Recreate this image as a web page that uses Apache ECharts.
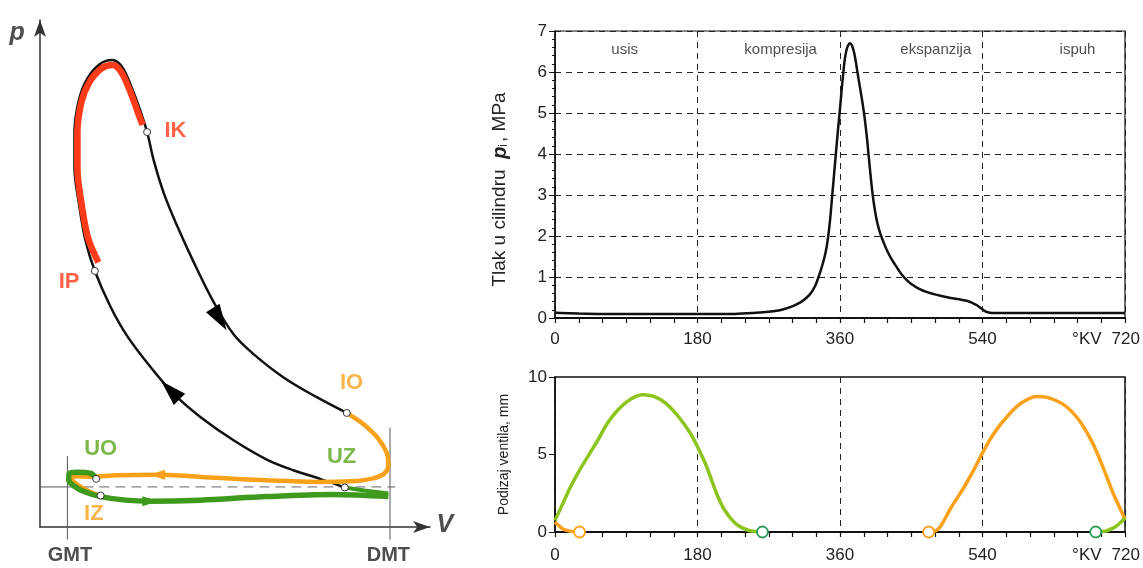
<!DOCTYPE html>
<html><head><meta charset="utf-8">
<script src="https://cdn.jsdelivr.net/npm/echarts@6/dist/echarts.min.js"></script>
<style>html,body{margin:0;padding:0;background:#fff}#c{width:1143px;height:568px}</style>
</head><body><div id="c"></div>
<script>
// ---------- Left: schematic p–V diagram (V: 0 = GMT, 100 = DMT; p in arbitrary units) ----------
const pvCycle = [[86.0,7.8],[78.3,9.5],[70.0,11.2],[61.8,13.3],[51.5,17.1],[41.2,21.7],[32.9,26.3],[25.7,31.6],[18.5,37.7],[13.4,43.4],[8.5,50.5],[5.6,56.5],[3.6,63.7],[2.2,70.8],[2.2,77.9],[3.6,84.3],[6.2,88.5],[10.3,91.4],[13.9,92.1],[17.0,90.7],[20.1,86.4],[22.6,82.1],[24.7,77.9],[26.8,72.2],[29.9,65.8],[34.0,59.4],[39.1,52.3],[45.3,44.4],[51.5,38.0],[57.7,34.1],[67.0,29.5],[77.3,25.6],[86.6,22.5]];
const pvCombustion = [[9.6,52.2],[6.4,57.0],[4.4,63.7],[3.1,70.8],[3.1,77.7],[4.3,83.7],[6.7,87.6],[10.5,90.4],[13.9,91.1],[16.6,89.8],[19.4,86.0],[21.7,82.0],[23.3,79.3]];
const pvExhaust = [[86.6,22.5],[91.7,20.3],[96.4,17.4],[99.0,14.6],[99.5,12.4],[98.5,10.7],[94.8,9.6],[87.6,9.0],[77.3,8.9],[61.8,9.2],[46.4,9.7],[27.8,10.3],[15.4,10.2],[7.2,9.9],[3.5,10.0],[1.2,9.8],[1.8,9.0],[4.2,7.9],[7.2,6.9],[10.3,6.2]];
const pvIntake = [[8.9,9.5],[7.2,10.6],[3.0,10.8],[0.6,10.6],[0.4,9.3],[2.0,8.1],[5.5,6.9],[10.3,6.0],[18.0,5.3],[25.7,5.1],[41.2,5.3],[61.8,6.0],[82.4,6.4],[99.5,6.0]];
const pvIntakeClosing = [[99.5,6.6],[92.0,7.2],[86.0,7.8]];
const pvPointNames = ['IK','IP','IO','UZ','UO','IZ'];
const pvPoints = [[24.7,77.9],[8.5,50.5],[86.6,22.5],[86.0,7.8],[8.9,9.5],[10.3,6.2]];
const pvLabelPos = [[33.5,78.2],[0.5,48.4],[88.1,28.4],[85.0,13.9],[10.3,15.3],[8.2,2.6]];
const pvArrowsBlack = [[47.2,41.0],[31.9,27.0]];
const pvArrowsBlackAngle = [-148,45];
const pvArrowOrange = [[27.8,10.3]];
const pvArrowGreen = [[25.7,5.1]];
const pvAtmLine = [[0,7.9],[100,7.9]];
const pvAtmStubs = [[[-9.8,7.9],[0,7.9]],[[100,7.9],[101.6,7.9]]];
const pvGmtLine = [[0,14.0],[0,-2.5]];
const pvDmtLine = [[100,19.6],[100,-2.5]];
const pvAxisText = [[-15.6,97.4,'p'],[117.0,0.3,'V'],[0.8,-5.6,'GMT'],[99.5,-5.6,'DMT']];

// ---------- Right: cylinder pressure and valve lift vs crank angle ----------
const crankTicks = [0,180,360,540,720];
const pressure = [[0,0.13],[30,0.11],[60,0.1],[120,0.1],[180,0.1],[227,0.1],[250,0.12],[270,0.155],[284,0.19],[298,0.27],[310,0.38],[318,0.5],[324,0.63],[329,0.8],[332,0.95],[336,1.18],[340,1.45],[343,1.72],[345.5,2.05],[348,2.5],[350,2.95],[352.5,3.5],[355,4.05],[357.5,4.6],[360,5.1],[362,5.55],[364,5.95],[366,6.3],[368,6.52],[370,6.64],[372.5,6.7],[375,6.65],[377.5,6.5],[380,6.25],[382,6.0],[385,5.65],[388,5.3],[391,4.9],[394,4.4],[396,4.0],[398.5,3.5],[401,3.05],[403.5,2.7],[406,2.42],[409,2.18],[412,2.0],[416,1.8],[420,1.62],[425,1.44],[430,1.29],[434,1.17],[438,1.06],[444,0.93],[450,0.83],[460,0.71],[470,0.63],[481,0.57],[497,0.5],[510,0.46],[520,0.42],[527,0.37],[533,0.31],[538,0.24],[543,0.17],[548,0.135],[555,0.12],[580,0.12],[720,0.12]];
const phaseNames = ['usis','kompresija','ekspanzija','ispuh'];
const phaseCenters = [88,285,481,660];
const phaseLabelLevel = 6.55;
const intakeLiftA = [[0,0.75],[10,1.85],[20,2.95],[30,3.9],[40,4.75],[55,6.0],[66,7.0],[80,7.9],[95,8.55],[111,8.86],[125,8.75],[140,8.3],[155,7.5],[170,6.45],[180,5.5],[190,4.4],[196,3.6],[204,2.5],[212,1.6],[220,1.0],[228,0.55],[236,0.28],[245,0.1],[255,0.02],[262,0]];
const intakeLiftB = [[683,0],[695,0.05],[705,0.25],[712,0.5],[720,0.9]];
const exhaustLiftA = [[0,0.65],[5,0.4],[10,0.2],[15,0.1],[20,0.04],[31,0]];
const exhaustLiftB = [[472,0],[480,0.06],[486,0.3],[492,0.8],[500,1.55],[510,2.35],[518,3.0],[530,4.1],[540,5.1],[555,6.4],[572,7.5],[590,8.35],[609,8.75],[620,8.7],[632,8.5],[643,8.2],[654,7.7],[665,7.0],[679,5.75],[692,4.2],[705,2.5],[713,1.6],[720,0.8]];
const intakeEvents = [[262,0],[683,0]];
const exhaustEvents = [[31,0],[472,0]];

const FONT = 'Liberation Sans, Arial, sans-serif';
const RED = '#ff3b1a', ORANGE = '#f9a11b', GREEN = '#3e9a1c', LGREEN = '#8cc41e', TEAL = '#2e9a5e';
const labelColor = {IK:RED, IP:RED, IO:ORANGE, IZ:ORANGE, UZ:'#5aa51e', UO:'#5aa51e'};

function crankX(grid, margin){
  return {
    gridIndex:grid, type:'value', min:0, max:720, interval:180,
    axisLine:{onZero:false, lineStyle:{color:'#111', width:2}},
    axisTick:{length:5, lineStyle:{color:'#111', width:1.2}},
    minorTick:{show:true, splitNumber:6, length:5, lineStyle:{color:'#111', width:1.2}},
    splitLine:{show:true, lineStyle:{color:'#222', width:1, type:[6,5]}},
    axisLabel:{color:'#222', fontSize:17, fontFamily:FONT, margin:margin,
      formatter: v => v === 720 ? '{k|°KV}{g| }{v|720}{p| }' : String(v),
      rich:{k:{fontSize:17, fontFamily:FONT, color:'#222'}, g:{width:10}, v:{fontSize:17, fontFamily:FONT, color:'#222'}, p:{width:38}}}
  };
}
function lineOpts(data, color, width, smooth){
  return {type:'line', data:data, symbol:'none', smooth:smooth, clip:false, lineStyle:{color:color, width:width}};
}

const pvLabelData = pvPointNames.map((n,i) => ({value:[pvLabelPos[i][0], pvLabelPos[i][1]], name:n, label:{color:labelColor[n]}}));
const pvAxisData = pvAxisText.map(t => ({value:[t[0], t[1]], name:t[2],
  label: (t[2]==='p'||t[2]==='V') ? {fontStyle:'italic', fontSize:25} : {fontSize:20}}));
const rot = (pts, angles) => pts.map((p,i) => ({value:p, symbolRotate: angles ? angles[i] : 0}));

const option = {
  animation:false,
  backgroundColor:'#fff',
  grid:[
    {left:40, top:20, width:390, height:507, containLabel:false, outerBoundsMode:'none'},
    {left:555, top:31, width:570, height:287, show:true, borderColor:'#111', borderWidth:1.2, containLabel:false, outerBoundsMode:'none'},
    {left:555, top:377, width:570, height:155, show:true, borderColor:'#111', borderWidth:1.5, containLabel:false, outerBoundsMode:'none'}
  ],
  xAxis:[
    {gridIndex:0, type:'value', min:-8.5, max:112.4,
     axisLine:{onZero:false, symbol:['none','arrow'], symbolSize:[9,17], lineStyle:{color:'#333', width:1.5}},
     axisTick:{show:false}, axisLabel:{show:false}, splitLine:{show:false}},
    crankX(1, 13), crankX(2, 15)
  ],
  yAxis:[
    {gridIndex:0, type:'value', min:0, max:100,
     axisLine:{onZero:false, symbol:['none','arrow'], symbolSize:[9,17], lineStyle:{color:'#333', width:1.5}},
     axisTick:{show:false}, axisLabel:{show:false}, splitLine:{show:false}},
    {gridIndex:1, type:'value', min:0, max:7, interval:1,
     axisLine:{show:true, onZero:false, lineStyle:{color:'#111', width:1.5}},
     axisTick:{show:true, length:6, lineStyle:{color:'#111'}},
     minorTick:{show:true, splitNumber:5, length:3, lineStyle:{color:'#111'}},
     splitLine:{show:true, lineStyle:{color:'#222', width:1, type:[6,5]}},
     axisLabel:{color:'#222', fontSize:17, fontFamily:FONT, margin:8},
     name:'Tlak u cilindru  {b|p}{s|i}, MPa', nameLocation:'middle', nameGap:45,
     nameTextStyle:{color:'#222', fontSize:19, fontFamily:FONT, padding:[0,30,0,0],
       rich:{b:{fontSize:20, fontWeight:'bold', fontStyle:'italic', fontFamily:FONT, color:'#222'},
             s:{fontSize:12, fontFamily:FONT, color:'#222', verticalAlign:'bottom', padding:[7,2,0,0]}}}},
    {gridIndex:2, type:'value', min:0, max:10, interval:5,
     axisLine:{show:true, onZero:false, lineStyle:{color:'#111', width:1.5}},
     axisTick:{show:true, length:6, lineStyle:{color:'#111'}},
     splitLine:{show:false},
     axisLabel:{color:'#222', fontSize:17, fontFamily:FONT, margin:8},
     name:'Podizaj ventila, mm', nameLocation:'middle', nameGap:44,
     nameTextStyle:{color:'#222', fontSize:14, fontFamily:FONT}}
  ],
  series:[
    // thin reference lines
    Object.assign(lineOpts(pvGmtLine,'#555',1,false),{xAxisIndex:0,yAxisIndex:0,silent:true}),
    Object.assign(lineOpts(pvDmtLine,'#555',1,false),{xAxisIndex:0,yAxisIndex:0,silent:true}),
    Object.assign(lineOpts(pvAtmLine,'#666',1,false),{xAxisIndex:0,yAxisIndex:0,silent:true,lineStyle:{color:'#666',width:1,type:[10,6]}}),
    Object.assign(lineOpts(pvAtmStubs[0],'#555',1,false),{xAxisIndex:0,yAxisIndex:0,silent:true}),
    Object.assign(lineOpts(pvAtmStubs[1],'#555',1,false),{xAxisIndex:0,yAxisIndex:0,silent:true}),
    // cycle
    Object.assign(lineOpts(pvCycle,'#111',2.5,0.35),{xAxisIndex:0,yAxisIndex:0}),
    Object.assign(lineOpts(pvCombustion,RED,6.5,0.35),{xAxisIndex:0,yAxisIndex:0}),
    Object.assign(lineOpts(pvExhaust,ORANGE,4.5,0.3),{xAxisIndex:0,yAxisIndex:0}),
    Object.assign(lineOpts(pvIntake,GREEN,5.5,0.3),{xAxisIndex:0,yAxisIndex:0}),
    Object.assign(lineOpts(pvIntakeClosing,GREEN,4,false),{xAxisIndex:0,yAxisIndex:0}),
    // arrows
    {type:'scatter', xAxisIndex:0, yAxisIndex:0, data:rot(pvArrowsBlack, pvArrowsBlackAngle), symbol:'triangle', symbolSize:[16,26], clip:false,
     itemStyle:{color:'#000', opacity:1}, z:4},
    {type:'scatter', xAxisIndex:0, yAxisIndex:0, data:rot(pvArrowOrange,[90]), symbol:'triangle', symbolSize:[10,16], clip:false,
     itemStyle:{color:ORANGE, opacity:1}, z:4},
    {type:'scatter', xAxisIndex:0, yAxisIndex:0, data:rot(pvArrowGreen,[-90]), symbol:'triangle', symbolSize:[10,16], clip:false,
     itemStyle:{color:GREEN, opacity:1}, z:4},
    // event points
    {type:'scatter', xAxisIndex:0, yAxisIndex:0, data:pvPoints, symbol:'circle', symbolSize:7, clip:false,
     itemStyle:{color:'#fff', borderColor:'#333', borderWidth:1, opacity:1}, z:5},
    // labels
    {type:'scatter', xAxisIndex:0, yAxisIndex:0, data:pvLabelData, symbolSize:1, clip:false, itemStyle:{color:'transparent'},
     label:{show:true, position:'inside', formatter:p => p.name, fontSize:22, fontWeight:'bold', fontFamily:FONT}},
    {type:'scatter', xAxisIndex:0, yAxisIndex:0, data:pvAxisData, symbolSize:1, clip:false, itemStyle:{color:'transparent'},
     label:{show:true, position:'inside', formatter:p => p.name, fontWeight:'bold', fontFamily:FONT, color:'#222'}},

    // ----- right top: pressure -----
    Object.assign(lineOpts(pressure,'#111',2.5,0.3),{xAxisIndex:1,yAxisIndex:1,z:4}),
    {type:'scatter', xAxisIndex:1, yAxisIndex:1, data:phaseCenters.map((c,i)=>({value:[c, phaseLabelLevel], name:phaseNames[i]})),
     symbolSize:1, itemStyle:{color:'transparent'},
     label:{show:true, position:'inside', formatter:p=>p.name, fontSize:15, fontFamily:FONT, color:'#222'}},

    // ----- right bottom: valve lift -----
    Object.assign(lineOpts(exhaustLiftA,ORANGE,3.5,0.4),{xAxisIndex:2,yAxisIndex:2}),
    Object.assign(lineOpts(exhaustLiftB,ORANGE,3.5,0.4),{xAxisIndex:2,yAxisIndex:2}),
    Object.assign(lineOpts(intakeLiftA,LGREEN,3.5,0.4),{xAxisIndex:2,yAxisIndex:2}),
    Object.assign(lineOpts(intakeLiftB,LGREEN,3.5,0.4),{xAxisIndex:2,yAxisIndex:2}),
    {type:'scatter', xAxisIndex:2, yAxisIndex:2, data:exhaustEvents, symbol:'circle', symbolSize:11, clip:false,
     itemStyle:{color:'#fff', borderColor:ORANGE, borderWidth:1.8, opacity:1}, z:6},
    {type:'scatter', xAxisIndex:2, yAxisIndex:2, data:intakeEvents, symbol:'circle', symbolSize:11, clip:false,
     itemStyle:{color:'#fff', borderColor:TEAL, borderWidth:1.8, opacity:1}, z:6}
  ]
};

const chart = echarts.init(document.getElementById('c'), null, {renderer:'canvas'});
chart.setOption(option);
</script></body></html>
